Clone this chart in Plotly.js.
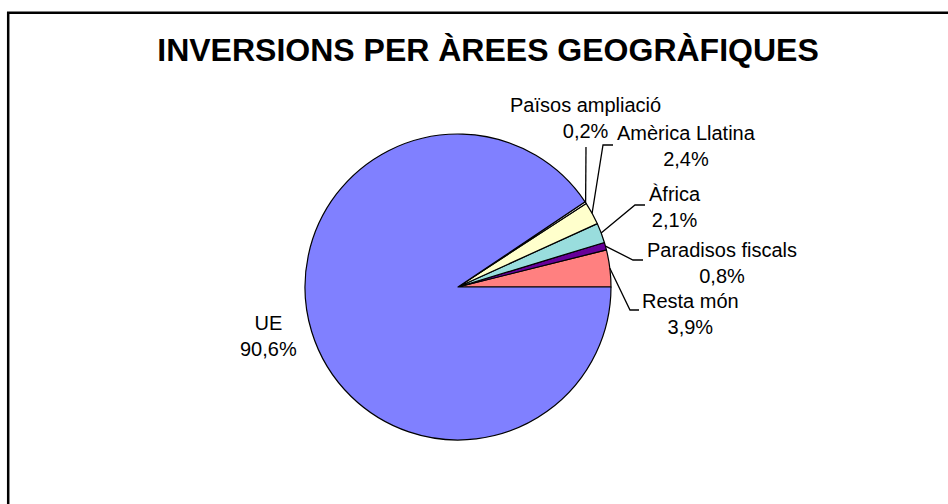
<!DOCTYPE html>
<html>
<head>
<meta charset="utf-8">
<script src="https://cdn.plot.ly/plotly-3.0.1.min.js"></script>
<style>
html,body{margin:0;padding:0;background:#fff;}
#chart{width:948px;height:504px;}
</style>
</head>
<body>
<div id="chart"></div>
<script>
// Data (counterclockwise from 3 o'clock)
const categories = ["Resta món", "Paradisos fiscals", "Àfrica", "Amèrica Llatina", "Països ampliació", "UE"];
const values = [3.9, 0.8, 2.1, 2.4, 0.2, 90.6];
const valueLabels = ["3,9%", "0,8%", "2,1%", "2,4%", "0,2%", "90,6%"];
const sliceColors = ["#FF8080", "#660099", "#99DDDD", "#FFFFCC", "#FFFFFF", "#8080FF"];

const W = 948, H = 504;
// pie geometry (pixels)
const cx = 458, cy = 287, R = 153;

// label layout (pixel centres) and leader elbows — placement only
const labelLayout = [
  {x: 690, y: 314, elbow: [630, 310], end: [639, 310]},
  {x: 722, y: 263, elbow: [633, 260], end: [643, 260]},
  {x: 675, y: 207, elbow: [635, 205], end: [645, 205]},
  {x: 686, y: 146, elbow: [603, 145], end: [613, 145]},
  {x: 585, y: 118, elbow: [586, 147], end: null},
  {x: 268, y: 336, elbow: null, end: null}
];

const px = x => x / W;
const py = y => 1 - y / H;

const total = values.reduce((a, b) => a + b, 0);
const annotations = [];
const shapes = [];
let acc = 0;
values.forEach((v, i) => {
  const mid = (acc + v / 2) / total * 2 * Math.PI;
  acc += v;
  const L = labelLayout[i];
  annotations.push({
    xref: 'paper', yref: 'paper', x: px(L.x), y: py(L.y),
    xanchor: 'center', yanchor: 'middle', showarrow: false,
    text: categories[i] + '<br>' + valueLabels[i],
    font: {family: 'Liberation Sans, Arial, sans-serif', size: 20, color: '#000'}
  });
  if (L.elbow) {
    const sx = cx + R * Math.cos(mid), sy = cy - R * Math.sin(mid);
    let d = `M${px(sx)},${py(sy)} L${px(L.elbow[0])},${py(L.elbow[1])}`;
    if (L.end) d += ` L${px(L.end[0])},${py(L.end[1])}`;
    shapes.push({type: 'path', xref: 'paper', yref: 'paper', path: d,
      line: {color: '#000', width: 1.3}});
  }
});
// chart-area frame (top and left edges)
shapes.push({type: 'line', xref: 'paper', yref: 'paper', x0: px(7), x1: 1.01, y0: py(12.8), y1: py(12.8), line: {color: '#000', width: 2.5}});
shapes.push({type: 'line', xref: 'paper', yref: 'paper', x0: px(8.2), x1: px(8.2), y0: py(12), y1: -0.01, line: {color: '#000', width: 2.5}});

// Plotly's counterclockwise pies end the first slice at the rotation angle,
// so shift the start so the first slice begins at 3 o'clock.
const rotation = 90 - values[0] / total * 360;

const trace = {
  type: 'pie',
  labels: categories,
  values: values,
  sort: false,
  direction: 'counterclockwise',
  rotation: rotation,
  textinfo: 'none',
  hoverinfo: 'label+percent',
  marker: {colors: sliceColors, line: {color: '#000', width: 1.2}},
  domain: {x: [px(cx - R), px(cx + R)], y: [py(cy + R), py(cy - R)]},
  showlegend: false
};

const layout = {
  width: W, height: H,
  margin: {l: 0, r: 0, t: 0, b: 0},
  paper_bgcolor: '#fff',
  showlegend: false,
  title: {
    text: 'INVERSIONS PER ÀREES GEOGRÀFIQUES',
    x: 488 / W, xanchor: 'center', y: py(50), yanchor: 'middle',
    font: {family: 'Liberation Sans, Arial, sans-serif', size: 32, weight: 'bold', color: '#000'}
  },
  annotations: annotations,
  shapes: shapes
};

Plotly.newPlot('chart', [trace], layout, {displayModeBar: false, staticPlot: true});
</script>
</body>
</html>
